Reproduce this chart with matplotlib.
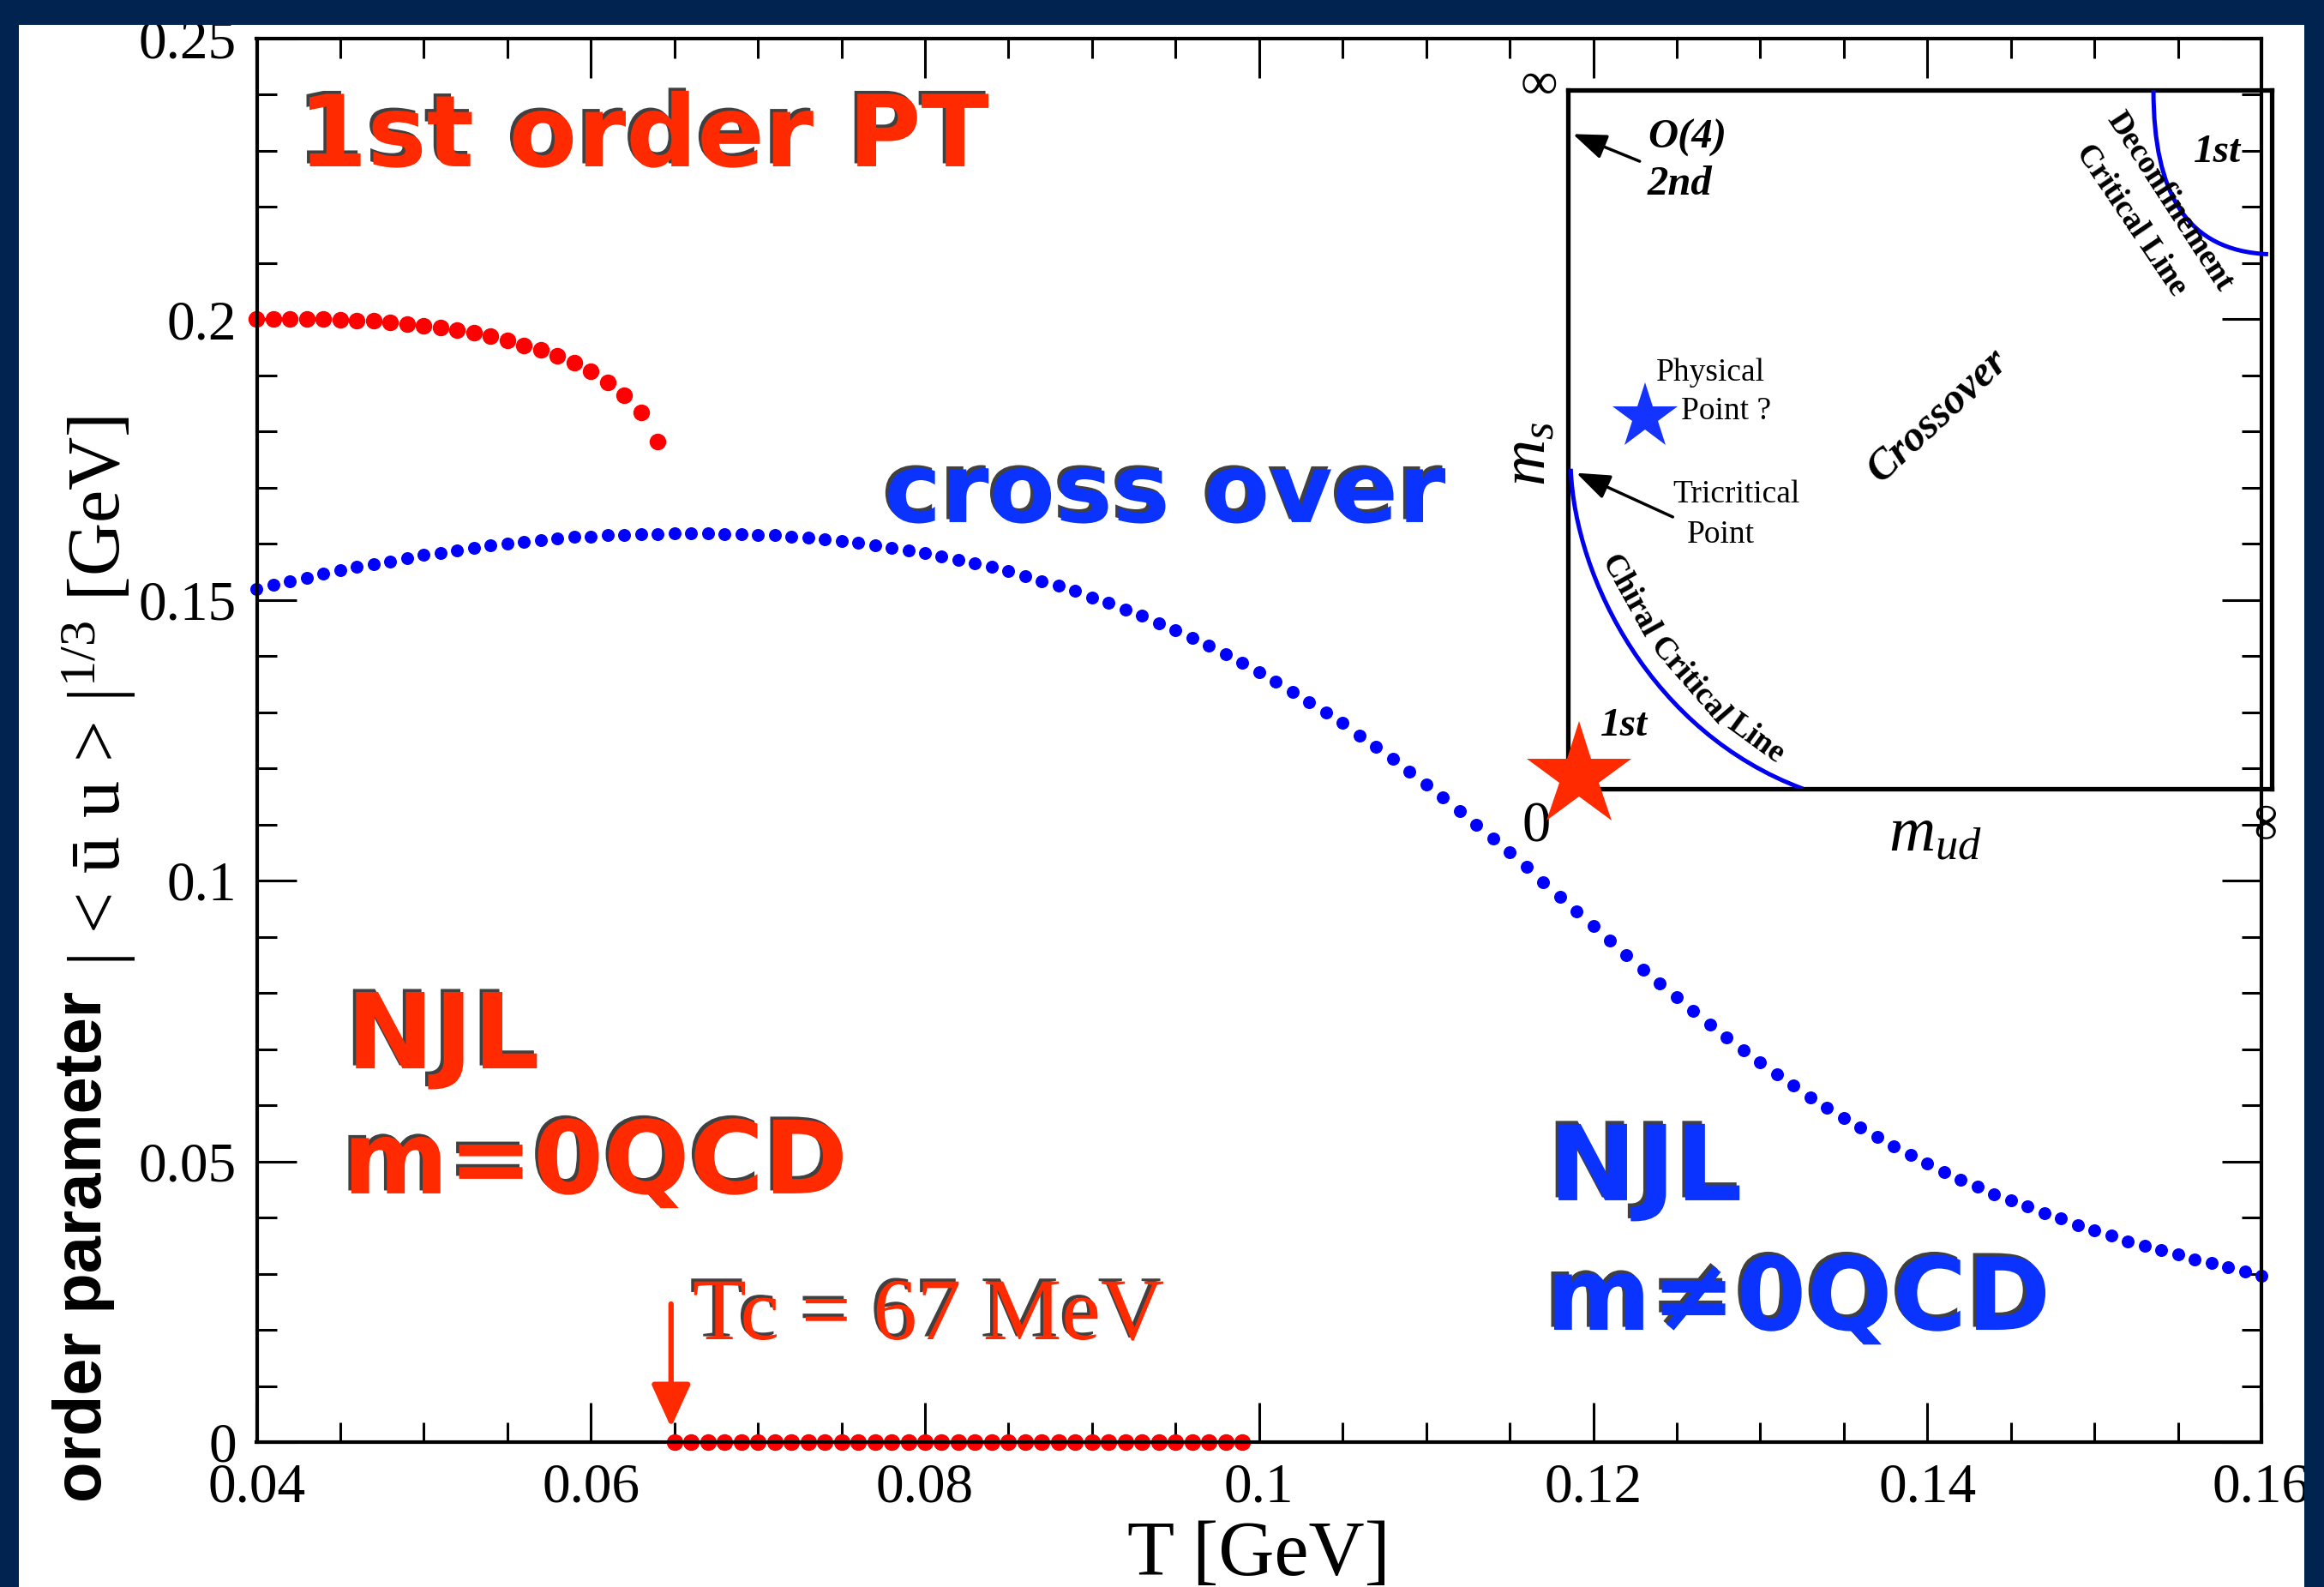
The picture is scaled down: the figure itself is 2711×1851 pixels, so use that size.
import numpy as np
import matplotlib
matplotlib.use('Agg')
import matplotlib.pyplot as plt
from matplotlib.patches import Rectangle, PathPatch
from matplotlib.path import Path
import matplotlib.patheffects as pe
from matplotlib.ticker import MultipleLocator, FixedLocator, FixedFormatter

plt.rcParams['mathtext.fontset'] = 'custom'
plt.rcParams['mathtext.rm'] = 'Liberation Serif'
plt.rcParams['mathtext.it'] = 'Liberation Serif:italic'
plt.rcParams['mathtext.bf'] = 'Liberation Serif:bold'

# ---------------- data ----------------
# first-order branch (m=0), T = 0.040 ... 0.064 GeV
T_first = np.round(np.arange(0.040, 0.0645, 0.001), 3)
phi_first = [0.2000, 0.2000, 0.2000, 0.2000, 0.2000, 0.1999, 0.1998, 0.1997,
             0.1995, 0.1992, 0.1989, 0.1985, 0.1981, 0.1976, 0.1970, 0.1963,
             0.1954, 0.1946, 0.1935, 0.1922, 0.1907, 0.1888, 0.1865, 0.1834,
             0.1782]
# restored phase (m=0), T = 0.065 ... 0.099 GeV
T_zero = np.round(np.arange(0.065, 0.0995, 0.001), 3)
phi_zero = [0.0, 0.0, 0.0, 0.0, 0.0, 0.0, 0.0, 0.0, 0.0, 0.0, 0.0, 0.0,
            0.0, 0.0, 0.0, 0.0, 0.0, 0.0, 0.0, 0.0, 0.0, 0.0, 0.0, 0.0,
            0.0, 0.0, 0.0, 0.0, 0.0, 0.0, 0.0, 0.0, 0.0, 0.0, 0.0]
# crossover (m != 0), T = 0.040 ... 0.160 GeV
T_cross = np.round(np.arange(0.040, 0.1605, 0.001), 3)
phi_cross = [0.1519, 0.1527, 0.1534, 0.1540, 0.1547, 0.1553, 0.1559, 0.1564,
             0.1569, 0.1575, 0.1580, 0.1584, 0.1589, 0.1593, 0.1597, 0.1600,
             0.1604, 0.1607, 0.1609, 0.1612, 0.1613, 0.1615, 0.1616, 0.1618,
             0.1618, 0.1619, 0.1619, 0.1619, 0.1618, 0.1617, 0.1616, 0.1615,
             0.1613, 0.1611, 0.1608, 0.1605, 0.1602, 0.1597, 0.1593, 0.1589,
             0.1584, 0.1578, 0.1571, 0.1565, 0.1559, 0.1551, 0.1543, 0.1534,
             0.1525, 0.1516, 0.1505, 0.1495, 0.1483, 0.1472, 0.1459, 0.1446,
             0.1432, 0.1418, 0.1403, 0.1388, 0.1371, 0.1355, 0.1337, 0.1318,
             0.1300, 0.1281, 0.1259, 0.1238, 0.1217, 0.1195, 0.1171, 0.1148,
             0.1124, 0.1100, 0.1075, 0.1050, 0.1024, 0.0998, 0.0972, 0.0945,
             0.0920, 0.0893, 0.0867, 0.0842, 0.0817, 0.0792, 0.0768, 0.0743,
             0.0721, 0.0698, 0.0677, 0.0655, 0.0635, 0.0614, 0.0596, 0.0577,
             0.0560, 0.0544, 0.0527, 0.0511, 0.0496, 0.0481, 0.0468, 0.0455,
             0.0442, 0.0431, 0.0420, 0.0408, 0.0398, 0.0387, 0.0377, 0.0368,
             0.0358, 0.0350, 0.0342, 0.0334, 0.0326, 0.0319, 0.0311, 0.0304,
             0.0297]

Tc_label = "Tc = 67 MeV"
Tc_value = 0.0648

xticks = [0.04, 0.06, 0.08, 0.10, 0.12, 0.14, 0.16]
xtick_labels = ['0.04', '0.06', '0.08', '0.1', '0.12', '0.14', '0.16']
yticks = [0.0, 0.05, 0.10, 0.15, 0.20, 0.25]
ytick_labels = ['0', '0.05', '0.1', '0.15', '0.2', '0.25']

# inset schematic (Columbia plot) curve control points, inset-axes units
chiral_ctrl_x = [0.004, 0.010, 0.120, 0.334]
chiral_ctrl_y = [0.458, 0.300, 0.080, 0.000]
deconf_ctrl_x = [0.832, 0.832, 0.880, 0.995]
deconf_ctrl_y = [1.000, 0.850, 0.770, 0.765]
physical_point = (0.110, 0.533)
tricritical_point = (0.012, 0.452)
o4_point = (0.007, 0.937)
origin_star = (0.016, 0.018)

# ---------------- style ----------------
NAVY = '#00234F'
RED_DOT = '#FF0000'
BLUE_DOT = '#0000FF'
RED_TXT = '#FF2A00'
BLUE_TXT = '#0A33FF'
SERIF = 'Liberation Serif'
HEAVY = ['DejaVu Sans']

W, H = 2711, 1851
fig = plt.figure(figsize=(W / 100, H / 100), dpi=100, facecolor='white')

ax = fig.add_axes([299.5 / W, 169 / H, 2338.5 / W, 1637 / H])
ax.set_xlim(0.04, 0.16)
ax.set_ylim(0.0, 0.25)

ax.plot(T_cross, phi_cross, 'o', color=BLUE_DOT, ms=10.8, mew=0, clip_on=False, zorder=2)
ax.plot(T_first, phi_first, 'o', color=RED_DOT, ms=14, mew=0, clip_on=False, zorder=2)
ax.plot(T_zero, phi_zero, 'o', color=RED_DOT, ms=14, mew=0, clip_on=False, zorder=2)

for s in ax.spines.values():
    s.set_linewidth(3.0)
ax.xaxis.set_major_locator(FixedLocator(xticks))
ax.xaxis.set_major_formatter(FixedFormatter(xtick_labels))
ax.yaxis.set_major_locator(FixedLocator(yticks))
ax.yaxis.set_major_formatter(FixedFormatter(ytick_labels))
ax.xaxis.set_minor_locator(MultipleLocator(0.005))
ax.yaxis.set_minor_locator(MultipleLocator(0.01))
ax.tick_params(which='both', direction='in', top=True, right=True, width=2.2)
ax.tick_params(which='major', length=33, pad=17, labelsize=47)
ax.tick_params(which='minor', length=16.5)
for lab in ax.get_xticklabels() + ax.get_yticklabels():
    lab.set_fontfamily(SERIF)

shadow = [pe.withSimplePatchShadow(offset=(-2.5, 2.5), shadow_rgbFace='black', alpha=0.75)]

def big(x, y, s, color, size=85):
    ax.text(x, y, s, transform=ax.transAxes, color=color, fontsize=size,
            family=HEAVY, weight='bold', ha='left', va='baseline',
            path_effects=shadow, zorder=6)

big(0.0207, 0.909, "1st order PT", RED_TXT, 83.5)
big(0.313, 0.6555, "cross over", BLUE_TXT, 81)
big(0.0447, 0.2663, "NJL", RED_TXT, 88)
big(0.0430, 0.1772, "m=0QCD", RED_TXT, 85)
big(0.6446, 0.1723, "NJL", BLUE_TXT, 88)
big(0.6430, 0.0800, "m\u22600QCD", BLUE_TXT, 85)

ax.text(0.2174, 0.0733, Tc_label, transform=ax.transAxes, color=RED_TXT,
        fontsize=74, family=SERIF, ha='left', va='baseline',
        path_effects=shadow, zorder=6)
ax.annotate('', xy=(Tc_value, 0.0026), xytext=(Tc_value, 0.0246),
            arrowprops=dict(arrowstyle='-|>,head_length=1.1,head_width=0.5',
                            mutation_scale=28, lw=4.5, color=RED_TXT,
                            shrinkA=0, shrinkB=0), zorder=6)

# axis labels
fig.text(1468 / W, 14 / H, "T [GeV]", fontsize=65, family=SERIF,
         ha='center', va='baseline')
fig.text(118 / W, (H - 1752) / H, "order parameter", fontsize=56,
         family='Liberation Sans', weight='bold', rotation=90,
         rotation_mode='anchor', ha='left', va='baseline')
fig.text(140 / W, (H - 1127) / H, "| < \u016b u > $|^{1/3}$ [GeV]",
         fontsize=62, family=SERIF, rotation=90, rotation_mode='anchor',
         ha='left', va='baseline')

# ---------------- inset ----------------
ins = fig.add_axes([1829 / W, 931 / H, 821 / W, 815 / H], zorder=3)
ins.set_facecolor('none')
ins.set_xlim(0, 1)
ins.set_ylim(0, 1)
ins.set_xticks([])
ins.set_yticks([])
for s in ins.spines.values():
    s.set_linewidth(3.8)

def bezier(xs, ys, **kw):
    verts = list(zip(xs, ys))
    p = Path(verts, [Path.MOVETO, Path.CURVE4, Path.CURVE4, Path.CURVE4])
    ins.add_patch(PathPatch(p, fill=False, **kw))

bezier(chiral_ctrl_x, chiral_ctrl_y, edgecolor='#0000EE', lw=3.6, zorder=3)
bezier(deconf_ctrl_x, deconf_ctrl_y, edgecolor='#0000EE', lw=3.6, zorder=3,
       clip_on=False)

ins.plot(*origin_star, marker='*', ms=92, color=RED_TXT, mew=0, clip_on=False, zorder=6)
ins.plot(*physical_point, marker='*', ms=58, color='#1433FF', mew=0, zorder=6)

ins.annotate('', xy=o4_point, xytext=(0.102, 0.898),
             arrowprops=dict(arrowstyle='-|>,head_length=0.8,head_width=0.3',
                             mutation_scale=30, lw=2.5, color='black',
                             shrinkA=0, shrinkB=0))
ins.annotate('', xy=tricritical_point, xytext=(0.149, 0.389),
             arrowprops=dict(arrowstyle='-|>,head_length=0.8,head_width=0.3',
                             mutation_scale=30, lw=2.5, color='black',
                             shrinkA=0, shrinkB=0))

bi = dict(family=SERIF, weight='bold', style='italic')
ins.text(0.113, 0.931, "O(4)", fontsize=35, ha='left', va='center', **bi)
ins.text(0.113, 0.865, "2nd", fontsize=35, ha='left', va='center', **bi)
ins.text(0.080, 0.090, "1st", fontsize=34, ha='center', va='center', **bi)
ins.text(0.922, 0.911, "1st", fontsize=34, ha='center', va='center', **bi)
ins.text(0.526, 0.534, "Crossover", fontsize=36, ha='center', va='center',
         rotation=43, rotation_mode='anchor', **bi)

ins.text(0.125, 0.595, "Physical", fontsize=27, family=SERIF, ha='left', va='center')
ins.text(0.161, 0.540, "Point ?", fontsize=27, family=SERIF, ha='left', va='center')
ins.text(0.149, 0.421, "Tricritical", fontsize=27, family=SERIF, ha='left', va='center')
ins.text(0.169, 0.364, "Point", fontsize=27, family=SERIF, ha='left', va='center')

bd = dict(family=SERIF, weight='bold', fontsize=27, ha='center', va='center',
          rotation_mode='anchor')
ins.text(0.087, 0.276, "Chiral", rotation=-61, **bd)
ins.text(0.173, 0.155, "Critical", rotation=-49, **bd)
ins.text(0.267, 0.072, "Line", rotation=-36, **bd)
ins.text(0.855, 0.840, "Deconfinement", rotation=-57, **bd)
ins.text(0.801, 0.814, "Critical Line", rotation=-56, **bd)

ins.text(-0.041, 1.006, "\u221e", fontsize=44, family=SERIF, ha='center', va='center')
ins.text(0.994, -0.045, "\u221e", fontsize=44, family=SERIF, ha='center', va='center',
         rotation=90)
ins.text(-0.045, -0.055, "0", fontsize=48, family=SERIF, ha='center', va='center')
ins.text(0.522, -0.064, "$m_{ud}$", fontsize=54, ha='center', va='center')
ins.text(-0.057, 0.479, "$m_{s}$", fontsize=54, ha='center', va='center', rotation=90)

# ---------------- navy frame ----------------
for rect in [(0, 0, 22 / W, 1), (0, 1 - 29 / H, 1, 29 / H), (2688 / W, 0, 1 - 2688 / W, 1)]:
    fig.add_artist(Rectangle(rect[:2], rect[2], rect[3], transform=fig.transFigure,
                             facecolor=NAVY, edgecolor='none', zorder=20))

fig.savefig('out.png', dpi=100, facecolor='white')
